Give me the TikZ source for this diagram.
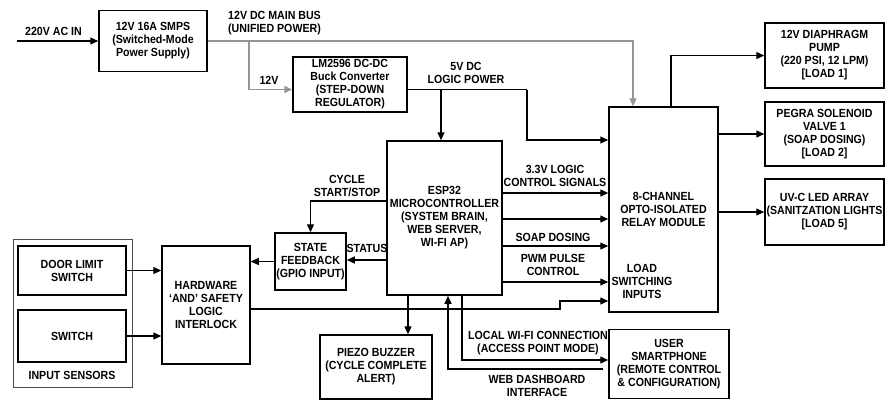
\documentclass[tikz,border=0pt]{standalone}
\usepackage{fontspec}
\setmainfont{Liberation Sans}[FakeStretch=0.9]
\usetikzlibrary{arrows.meta}
\definecolor{busgray}{RGB}{150,150,150}
\tikzset{
  box/.style={draw, line width=1.5pt, align=center, inner sep=1pt,
    font=\bfseries\fontsize{11.8}{13}\selectfont},
  lbl/.style={align=center, inner sep=0pt, font=\bfseries\fontsize{11.8}{13}\selectfont},
  arr/.style={line width=1.3pt, -{Triangle[length=8pt,width=7pt]}},
  ln/.style={line width=1.3pt},
  grayarr/.style={line width=1.9pt, draw=busgray, -{Triangle[length=8pt,width=7pt,fill=busgray]}},
}
\begin{document}
\begin{tikzpicture}[x=1pt,y=-1pt]
\useasboundingbox (0,0) rectangle (885,400);
% boxes
\node[box, minimum width=108pt, minimum height=61pt] (smps) at (153,41) {12V 16A SMPS\\(Switched-Mode\\Power Supply)};
\node[box, minimum width=114pt, minimum height=55pt] (buck) at (350,84.5) {LM2596 DC-DC\\Buck Converter\\(STEP-DOWN\\REGULATOR)};
\node[box, minimum width=115pt, minimum height=154pt] (esp) at (444.5,218) {ESP32\\MICROCONTROLLER\\(SYSTEM BRAIN,\\WEB SERVER,\\WI-FI AP)};
\node[box, minimum width=109pt, minimum height=205pt] (relay) at (663.5,209.5) {8-CHANNEL\\OPTO-ISOLATED\\RELAY MODULE};
\node[box, minimum width=119pt, minimum height=65pt] (pump) at (824.5,55.5) {12V DIAPHRAGM\\PUMP\\(220 PSI, 12 LPM)\\{[LOAD 1]}};
\node[box, minimum width=119pt, minimum height=64pt] (valve) at (824.5,134) {PEGRA SOLENOID\\VALVE 1\\(SOAP DOSING)\\{[LOAD 2]}};
\node[box, minimum width=119pt, minimum height=66pt] (uvc) at (824.5,212) {UV-C LED ARRAY\\(SANITZATION LIGHTS\\{[LOAD 5]}};
\node[draw=black!70, line width=1pt, minimum width=119pt, minimum height=148pt] (sensors) at (72.5,313) {};
\node[box, minimum width=108pt, minimum height=49pt] (door) at (72,270.5) {DOOR LIMIT\\SWITCH};
\node[box, minimum width=108pt, minimum height=52pt] (switch) at (72,336) {SWITCH};
\node[box, minimum width=88pt, minimum height=118pt] (lock) at (206,305) {HARDWARE\\`AND' SAFETY\\LOGIC\\INTERLOCK};
\node[box, minimum width=71pt, minimum height=57pt, inner sep=0pt] (state) at (310.5,261.5) {STATE\\FEEDBACK\\(GPIO INPUT)};
\node[box, minimum width=112pt, minimum height=64pt] (piezo) at (376,367) {PIEZO BUZZER\\(CYCLE COMPLETE\\ALERT)};
\node[box, minimum width=120pt, minimum height=69pt] (phone) at (669,364) {USER\\SMARTPHONE\\(REMOTE CONTROL\\\& CONFIGURATION)};
% labels
\node[lbl] (lac) at (53.5,31) {220V AC IN};
\node[lbl, align=left, anchor=west] (lbus) at (228,23) {12V DC MAIN BUS\\(UNIFIED POWER)};
\node[lbl] (l12) at (269,80) {12V};
\node[lbl] (l5v) at (466,73) {5V DC\\LOGIC POWER};
\node[lbl] (lcyc) at (347,186) {CYCLE\\START/STOP};
\node[lbl] (lstat) at (367,248) {STATUS};
\node[lbl] (l33) at (555,176) {3.3V LOGIC\\CONTROL SIGNALS};
\node[lbl] (lsoap) at (553,237) {SOAP DOSING};
\node[lbl] (lpwm) at (553,265) {PWM PULSE\\CONTROL};
\node[lbl] (lload) at (642,281) {LOAD\\SWITCHING\\INPUTS};
\node[lbl] (lwifi) at (538,343) {LOCAL WI-FI CONNECTION\\(ACCESS POINT MODE)};
\node[lbl] (lweb) at (537,386) {WEB DASHBOARD\\INTERFACE};
\node[lbl] (lsens) at (72,375) {INPUT SENSORS};
% coordinates
\coordinate (acin) at (17,41);
\coordinate (b12) at (249,41);
\coordinate (v5a) at (527,89.5);
\coordinate (v5b) at (527,140);
\coordinate (v5esp) at (441,89.5);
\coordinate (ila) at (560,309);
\coordinate (ilb) at (560,301);
\coordinate (web) at (603,369);
% power
\draw[arr] (acin) -- (smps.west);
\draw[grayarr] (smps.east) -| ([xshift=-30.5pt]relay.north);
\draw[grayarr] (b12) |- ([yshift=-5pt]buck.west);
\draw[ln] ([yshift=-5pt]buck.east) -- (v5a);
\draw[arr] (v5a) -- (v5b) -- (v5b -| relay.west);
\draw[arr] (v5esp) -- (v5esp |- esp.north);
% esp to relay
\path ([yshift=25pt]esp.east) coordinate (e1)
      ([yshift=-1pt]esp.east) coordinate (e2)
      ([yshift=-28pt]esp.east) coordinate (e3)
      ([yshift=-64pt]esp.east) coordinate (e4);
\draw[arr] (e1) -- (e1 -| relay.west);
\draw[arr] (e2) -- (e2 -| relay.west);
\draw[arr] (e3) -- (e3 -| relay.west);
\draw[arr] (e4) -- (e4 -| relay.west);
% interlock to relay
\path ([yshift=-4pt]lock.east) coordinate (i1);
\draw[arr] (i1) -- (ila) -- (ilb) -- (ilb -| relay.west);
% relay outputs
\draw[arr] ([xshift=7.5pt]relay.north) |- (pump.west);
\draw[arr] (relay.east |- valve.west) -- (valve.west);
\draw[arr] (relay.east |- uvc.west) -- (uvc.west);
% esp to state
\path ([yshift=-42pt]esp.west) coordinate (s1)
      ([yshift=17pt]esp.west) coordinate (c1);
\draw[arr] (s1) -- (s1 -| state.east);
\draw[arr] (c1) -| (state.north);
\draw[arr] (state.west) -- (state.west -| lock.east);
% sensors
\draw[arr] (door.east) -- (door.east -| lock.west);
\draw[arr] (switch.east) -- (switch.east -| lock.west);
% bottom
\path ([xshift=-36.5pt]esp.south) coordinate (p1);
\draw[arr] (p1) -- (p1 |- piezo.north);
\draw[arr] (web) -| ([xshift=3.5pt]esp.south);
\draw[arr] ([xshift=17.5pt]esp.south) |- ([yshift=4pt]phone.west);
\end{tikzpicture}
\end{document}
